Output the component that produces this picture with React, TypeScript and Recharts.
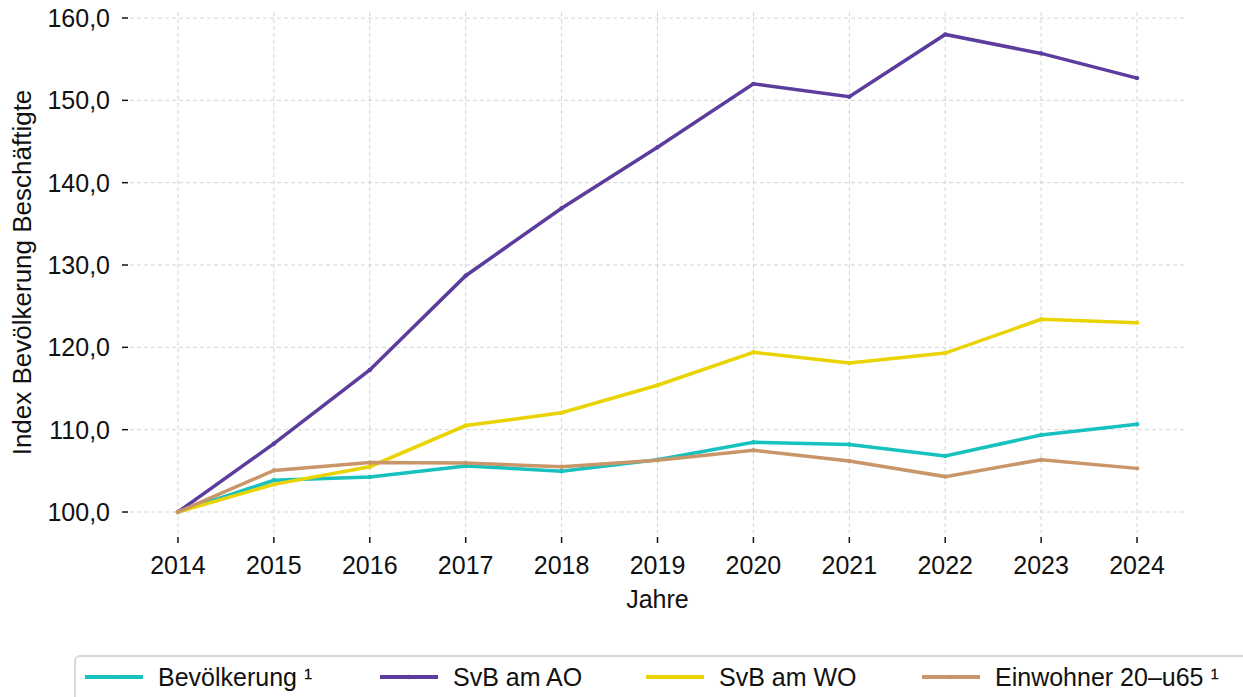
import React from 'react';
import { LineChart, Line, XAxis, YAxis, CartesianGrid } from 'recharts';

// Index values (2014 = 100)
const years = [2014, 2015, 2016, 2017, 2018, 2019, 2020, 2021, 2022, 2023, 2024];
const bevoelkerung = [100, 103.85, 104.25, 105.6, 104.95, 106.35, 108.47, 108.2, 106.8, 109.35, 110.65];
const svbAO = [100, 108.3, 117.25, 128.7, 136.9, 144.3, 152.0, 150.45, 158.0, 155.7, 152.7];
const svbWO = [100, 103.36, 105.5, 110.5, 112.05, 115.4, 119.4, 118.1, 119.3, 123.4, 123.0];
const einwohner = [100, 105.05, 106.0, 105.95, 105.5, 106.3, 107.5, 106.2, 104.3, 106.35, 105.3];
const yTicks = [100, 110, 120, 130, 140, 150, 160];

const X_DOMAIN: [number, number] = [2013.5, 2024.5];
const Y_DOMAIN: [number, number] = [97.45, 160.73];

const seriesNames = ['Bevölkerung ¹', 'SvB am AO', 'SvB am WO', 'Einwohner 20–u65 ¹'];
const seriesKeys = ['bev', 'ao', 'wo', 'ew'];
const seriesColors = ['#17c1be', '#5c3d9e', '#e9d300', '#c9966a'];

const data = years.map((year, i) => ({
  year,
  bev: bevoelkerung[i],
  ao: svbAO[i],
  wo: svbWO[i],
  ew: einwohner[i],
}));

const FONT = '"Liberation Sans", Arial, sans-serif';
const TEXT = '#111111';

const fmt = (v: number) => v.toFixed(1).replace('.', ',');

const XTick = (props: any) => {
  const { x, y, payload } = props;
  return (
    <g>
      <line x1={x} x2={x} y1={y + 4} y2={y + 10} stroke="#111" strokeWidth={1.5} />
      <text x={x} y={y + 41} textAnchor="middle" fontSize={25} fontFamily={FONT} fill={TEXT}>
        {payload.value}
      </text>
    </g>
  );
};

const YTick = (props: any) => {
  const { x, y, payload } = props;
  return (
    <g>
      <line x1={x - 8} x2={x - 2} y1={y} y2={y} stroke="#111" strokeWidth={1.5} />
      <text x={x - 20} y={y + 9} textAnchor="end" fontSize={25} fontFamily={FONT} fill={TEXT}>
        {fmt(payload.value)}
      </text>
    </g>
  );
};

// grid lines only at tick positions (no lines along the plot edges)
const gridX = (p: any) => {
  const o = p.offset;
  return years.map((yr) => o.left + ((yr - X_DOMAIN[0]) / (X_DOMAIN[1] - X_DOMAIN[0])) * o.width);
};
const gridY = (p: any) => {
  const o = p.offset;
  return yTicks.map((t) => o.top + ((Y_DOMAIN[1] - t) / (Y_DOMAIN[1] - Y_DOMAIN[0])) * o.height);
};

const legendLefts = [9, 304, 570, 846];

export default function App() {
  return (
    <div style={{ position: 'absolute', left: 0, top: 0, width: 1243, height: 697, overflow: 'hidden', background: '#fff', fontFamily: FONT }}>
      <LineChart width={1243} height={697} data={data} margin={{ top: 12, right: 58, left: 0, bottom: 0 }}>
        <CartesianGrid
          stroke="#d4d4d4"
          strokeDasharray="4 3"
          strokeWidth={1}
          verticalCoordinatesGenerator={gridX}
          horizontalCoordinatesGenerator={gridY}
        />
        <XAxis
          dataKey="year"
          type="number"
          domain={X_DOMAIN}
          ticks={years}
          height={164}
          axisLine={false}
          tickLine={false}
          tickSize={0}
          tickMargin={0}
          tick={<XTick />}
          interval={0}
          label={(p: any) => {
            const vb = p.viewBox;
            return (
              <text x={vb.x + vb.width / 2} y={608} textAnchor="middle" fontSize={25} fontFamily={FONT} fill={TEXT}>
                Jahre
              </text>
            );
          }}
        />
        <YAxis
          type="number"
          domain={Y_DOMAIN}
          ticks={yTicks}
          width={130}
          axisLine={false}
          tickLine={false}
          tickSize={0}
          tickMargin={0}
          tick={<YTick />}
          interval={0}
          allowDataOverflow
          label={(p: any) => {
            const vb = p.viewBox;
            const cy = vb.y + vb.height / 2;
            return (
              <text x={31} y={cy} transform={`rotate(-90, 31, ${cy})`} textAnchor="middle" fontSize={26} fontFamily={FONT} fill={TEXT}>
                Index Bevölkerung Beschäftigte
              </text>
            );
          }}
        />
        {seriesKeys.map((k, i) => (
          <Line
            key={k}
            type="linear"
            dataKey={k}
            name={seriesNames[i]}
            stroke={seriesColors[i]}
            strokeWidth={3.5}
            dot={{ r: 2.2, fill: seriesColors[i], stroke: seriesColors[i], strokeWidth: 0 }}
            activeDot={false}
            isAnimationActive={false}
          />
        ))}
      </LineChart>
      <div
        style={{
          position: 'absolute',
          left: 74,
          top: 655,
          width: 1200,
          height: 60,
          border: '2px solid #d8d8d8',
          borderRadius: 6,
          boxSizing: 'border-box',
          background: '#fff',
        }}
      >
        {seriesNames.map((n, i) => (
          <div key={n} style={{ position: 'absolute', left: legendLefts[i], top: 0, height: 40, display: 'flex', alignItems: 'center' }}>
            <svg width={58} height={10} style={{ display: 'block' }}>
              <line x1={0} x2={58} y1={5} y2={5} stroke={seriesColors[i]} strokeWidth={4} />
              <circle cx={29} cy={5} r={2.2} fill={seriesColors[i]} />
            </svg>
            <span style={{ marginLeft: 15, fontSize: 25, color: TEXT, whiteSpace: 'nowrap', fontFamily: FONT }}>{n}</span>
          </div>
        ))}
      </div>
    </div>
  );
}
